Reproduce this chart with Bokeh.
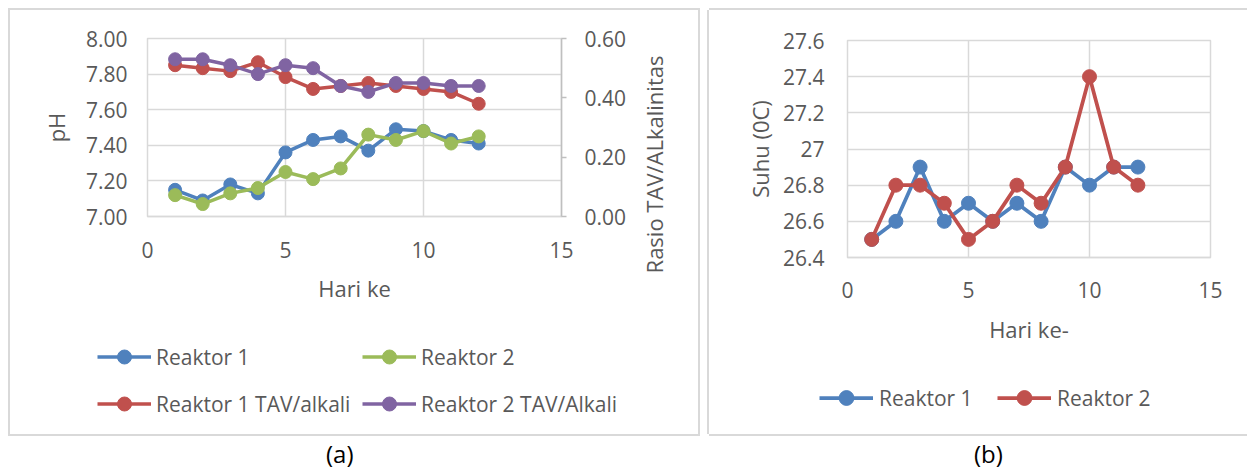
import math
from bokeh.plotting import figure
from bokeh.models import (Range1d, LinearAxis, FixedTicker, PrintfTickFormatter,
                          NumeralTickFormatter, Legend, LegendItem, Div, Label)
from bokeh.layouts import row, column
from bokeh.embed import file_html
from bokeh.resources import INLINE

# ---------------- data ----------------
days = [1, 2, 3, 4, 5, 6, 7, 8, 9, 10, 11, 12]
ph_reaktor1 = [7.15, 7.09, 7.18, 7.13, 7.36, 7.43, 7.45, 7.37, 7.49, 7.48, 7.43, 7.41]
ph_reaktor2 = [7.12, 7.07, 7.13, 7.16, 7.25, 7.21, 7.27, 7.46, 7.43, 7.48, 7.41, 7.45]
ratio_reaktor1 = [0.51, 0.50, 0.49, 0.52, 0.47, 0.43, 0.44, 0.45, 0.44, 0.43, 0.42, 0.38]
ratio_reaktor2 = [0.53, 0.53, 0.51, 0.48, 0.51, 0.50, 0.44, 0.42, 0.45, 0.45, 0.44, 0.44]
suhu_reaktor1 = [26.5, 26.6, 26.9, 26.6, 26.7, 26.6, 26.7, 26.6, 26.9, 26.8, 26.9, 26.9]
suhu_reaktor2 = [26.5, 26.8, 26.8, 26.7, 26.5, 26.6, 26.8, 26.7, 26.9, 27.4, 26.9, 26.8]

x_ticks = [0, 5, 10, 15]
ph_ticks = [7.0, 7.2, 7.4, 7.6, 7.8, 8.0]
ratio_ticks = [0.0, 0.2, 0.4, 0.6]
suhu_ticks = [26.4, 26.6, 26.8, 27.0, 27.2, 27.4, 27.6]

labels_a = ["Reaktor 1", "Reaktor 2", "Reaktor 1 TAV/alkali", "Reaktor 2 TAV/Alkali"]
labels_b = ["Reaktor 1", "Reaktor 2"]

# ---------------- style ----------------
FONT = "Open Sans"
TXT = "#595959"
GRID = "#d9d9d9"
AXIS = "#bfbfbf"
BLUE = "#4f81bd"
RED = "#c0504d"
GREEN = "#9bbb59"
PURPLE = "#8064a2"
TICK_FS = "21px"
TITLE_FS = "22px"
LEG_FS = "21px"
BOX = "#d9d9d9"


def style_axis(ax, standoff, title_standoff, tick_out=0, line_color=None):
    ax.major_label_text_font = FONT
    ax.major_label_text_font_size = TICK_FS
    ax.major_label_text_color = TXT
    ax.axis_label_text_font = FONT
    ax.axis_label_text_font_size = TITLE_FS
    ax.axis_label_text_color = TXT
    ax.axis_label_text_font_style = "normal"
    ax.minor_tick_line_color = None
    ax.major_tick_in = 0
    ax.major_tick_out = tick_out
    if tick_out == 0:
        ax.major_tick_line_color = None
    else:
        ax.major_tick_line_color = AXIS
        ax.major_tick_line_width = 1.5
    ax.axis_line_color = line_color
    ax.axis_line_width = 1.5
    ax.major_label_standoff = standoff
    ax.axis_label_standoff = title_standoff


def blank_fig(w, h):
    return figure(width=w, height=h, x_range=Range1d(0, w), y_range=Range1d(0, h),
                  x_axis_type=None, y_axis_type=None, output_backend="svg",
                  toolbar_location=None, tools="", min_border=0,
                  min_border_left=0, min_border_right=0, min_border_top=0,
                  min_border_bottom=0, outline_line_color=None)


def add_legend(p, items, x, y, glyph_h, spacing, standoff):
    lg = Legend(items=items, location=(x, y), orientation="vertical",
                glyph_width=54, glyph_height=glyph_h, label_height=glyph_h,
                spacing=spacing, padding=0, margin=0, border_line_color=None,
                background_fill_alpha=0, inactive_fill_alpha=0,
                label_standoff=standoff, label_text_font=FONT,
                label_text_font_size=LEG_FS, label_text_color=TXT)
    p.add_layout(lg)


def legend_item(f, label, xs, ys, color, lw, ms):
    # hidden copies of the series, only used to draw the legend swatch
    r1 = f.line(xs, ys, line_color=color, line_width=lw, visible=False)
    r2 = f.scatter(xs, ys, size=ms, fill_color=color, line_color=color, visible=False)
    return LegendItem(label=label, renderers=[r1, r2])


# ---------------- chart (a) ----------------
pa = figure(width=628, height=310, x_range=Range1d(0, 15), y_range=Range1d(7, 8),
            output_backend="svg", toolbar_location=None, tools="",
            min_border_left=137, min_border_right=77, min_border_top=28,
            min_border_bottom=104, outline_line_color=GRID, outline_line_width=1.5)
pa.extra_y_ranges = {"ratio": Range1d(0, 0.6)}

pa.xaxis.ticker = FixedTicker(ticks=x_ticks)
pa.xaxis.axis_label = "Hari ke"
style_axis(pa.xaxis[0], 25, 12, line_color=GRID)

pa.yaxis.ticker = FixedTicker(ticks=ph_ticks)
pa.yaxis.formatter = PrintfTickFormatter(format="%.2f")
pa.yaxis.axis_label = "pH"
style_axis(pa.yaxis[0], 20, 12, line_color=None)

ax_r = LinearAxis(y_range_name="ratio", ticker=FixedTicker(ticks=ratio_ticks),
                  formatter=PrintfTickFormatter(format="%.2f"))
style_axis(ax_r, 18, 16, tick_out=5, line_color=AXIS)
pa.add_layout(ax_r, "right")

pa.xgrid.ticker = FixedTicker(ticks=x_ticks)
pa.ygrid.ticker = FixedTicker(ticks=ph_ticks)
for g in (pa.xgrid[0], pa.ygrid[0]):
    g.grid_line_color = GRID
    g.grid_line_width = 1.5

LW_A = 3.5
MS_A = 13
pa.line(days, ph_reaktor1, line_color=BLUE, line_width=LW_A)
pa.scatter(days, ph_reaktor1, size=MS_A, fill_color=BLUE, line_color=BLUE)
pa.line(days, ph_reaktor2, line_color=GREEN, line_width=LW_A)
pa.scatter(days, ph_reaktor2, size=MS_A, fill_color=GREEN, line_color=GREEN)
pa.line(days, ratio_reaktor1, line_color=RED, line_width=LW_A, y_range_name="ratio")
pa.scatter(days, ratio_reaktor1, size=MS_A, fill_color=RED, line_color=RED,
           y_range_name="ratio")
pa.line(days, ratio_reaktor2, line_color=PURPLE, line_width=LW_A, y_range_name="ratio")
pa.scatter(days, ratio_reaktor2, size=MS_A, fill_color=PURPLE, line_color=PURPLE,
           y_range_name="ratio")

# title of the secondary axis (reads bottom to top)
ttl_a = blank_fig(60, 310)
ttl_a.add_layout(Label(x=15, y=156, text="Rasio TAV/ALkalinitas", angle=math.pi / 2,
                       text_font=FONT, text_font_size=TITLE_FS, text_color=TXT,
                       text_align="center", text_baseline="middle"))

# legend area of chart (a)
leg_a = blank_fig(688, 114)
add_legend(leg_a, [legend_item(leg_a, labels_a[0], days, ph_reaktor1, BLUE, LW_A, MS_A),
                   legend_item(leg_a, labels_a[2], days, ratio_reaktor1, RED, LW_A, MS_A)],
           87, 13, 35, 12, 5)
add_legend(leg_a, [legend_item(leg_a, labels_a[1], days, ph_reaktor2, GREEN, LW_A, MS_A),
                   legend_item(leg_a, labels_a[3], days, ratio_reaktor2, PURPLE, LW_A, MS_A)],
           352, 13, 35, 12, 5)

box_a = column(row(pa, column(ttl_a)), leg_a,
               styles={"box-shadow": "0 0 0 2px %s" % BOX})

# ---------------- chart (b) ----------------
pb = figure(width=538, height=350, x_range=Range1d(0, 15), y_range=Range1d(26.4, 27.6),
            output_backend="svg", toolbar_location=None, tools="",
            min_border_left=138, min_border_right=37, min_border_top=30,
            min_border_bottom=103, outline_line_color=GRID, outline_line_width=1.5)
pb.xaxis.ticker = FixedTicker(ticks=x_ticks)
pb.xaxis.axis_label = "Hari ke-"
style_axis(pb.xaxis[0], 24, 13, line_color=GRID)
pb.yaxis.ticker = FixedTicker(ticks=suhu_ticks)
pb.yaxis.formatter = NumeralTickFormatter(format="0.[0]")
pb.yaxis.axis_label = "Suhu (0C)"
style_axis(pb.yaxis[0], 23, 5, line_color=None)
pb.xgrid.ticker = FixedTicker(ticks=x_ticks)
pb.ygrid.ticker = FixedTicker(ticks=suhu_ticks)
for g in (pb.xgrid[0], pb.ygrid[0]):
    g.grid_line_color = GRID
    g.grid_line_width = 1.5

LW_B = 3.75
MS_B = 14
pb.line(days, suhu_reaktor1, line_color=BLUE, line_width=LW_B)
pb.scatter(days, suhu_reaktor1, size=MS_B, fill_color=BLUE, line_color=BLUE)
pb.line(days, suhu_reaktor2, line_color=RED, line_width=LW_B)
pb.scatter(days, suhu_reaktor2, size=MS_B, fill_color=RED, line_color=RED)

leg_b = blank_fig(538, 74)
add_legend(leg_b, [legend_item(leg_b, labels_b[0], days, suhu_reaktor1, BLUE, LW_B, MS_B)],
           110, 18, 37, 0, 6)
add_legend(leg_b, [legend_item(leg_b, labels_b[1], days, suhu_reaktor2, RED, LW_B, MS_B)],
           288, 18, 37, 0, 6)

box_b = column(pb, row(leg_b),
               styles={"box-shadow": "-2px 0 0 0 %s, 0 -2px 0 0 %s, 0 2px 0 0 %s"
                       % (BOX, BOX, BOX)})

# ---------------- captions ----------------
cap_style = ("padding-top:3px;font-family:'Open Sans';font-size:24px;"
             "line-height:33px;color:#000;white-space:nowrap;")
div_a = Div(text='<div style="%smargin-left:316px;">(a)</div>' % cap_style,
            width=688, height=36, margin=0)
div_b = Div(text='<div style="%smargin-left:265px;">(b)</div>' % cap_style,
            width=538, height=36, margin=0)

layout = row(column(box_a, div_a), column(box_b, div_b), spacing=11,
             margin=(10, 0, 0, 10))

open("out.html", "w").write(file_html(layout, INLINE))
